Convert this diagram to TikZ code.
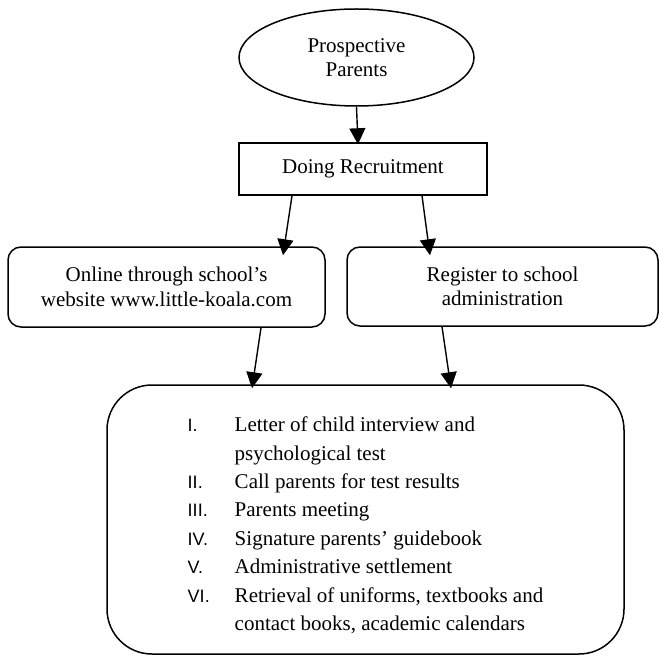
\documentclass[tikz,border=0pt]{standalone}
\usepackage{fontspec}
\setmainfont{Liberation Serif}
\newfontfamily\numfont{Liberation Sans}
\usetikzlibrary{shapes.geometric,arrows.meta}

\tikzset{
    box/.style={draw, line width=1.5pt, align=center, inner sep=0pt, font=\fontsize{21}{24.5}\selectfont},
    flow/.style={line width=1.4pt, -{Triangle[length=16pt,width=16pt]}}
}
\newcommand{\stepnum}[1]{{\numfont\fontsize{18}{18}\selectfont #1}}

\begin{document}
\begin{tikzpicture}[x=1pt, y=-1pt]
    \useasboundingbox (0,0) rectangle (660,655);

    % Prospective parents
    \node[box, ellipse, minimum width=235, minimum height=97] (parents) at (356.5,57.5) {Prospective\\Parents};

    % Recruitment
    \node[box, rectangle, minimum width=248, minimum height=52] (recruit) at (363,169) {Doing Recruitment};

    % Two ways to register
    \node[box, rounded corners=13pt, minimum width=317, minimum height=80] (online) at (166.5,287) {Online through school's\\website www.little-koala.com};
    \node[box, rounded corners=13pt, minimum width=311, minimum height=79] (register) at (502.5,286.5) {Register to school\\administration};

    % Steps after registration
    \node[box, rounded corners=45pt, minimum width=517, minimum height=269] (steps) at (365.5,519.5) {%
        \fontsize{21}{28.4}\selectfont
        \raisebox{-6pt}[\height][\depth]{\begin{tabular}{@{}p{47pt}@{}l@{}}
            \stepnum{I.} & Letter of child interview and\\
             & psychological test\\
            \stepnum{II.} & Call parents for test results\\
            \stepnum{III.} & Parents meeting\\
            \stepnum{IV.} & Signature parents' guidebook\\
            \stepnum{V.} & Administrative settlement\\
            \stepnum{VI.} & Retrieval of uniforms, textbooks and\\
             & contact books, academic calendars
        \end{tabular}}};

    % Arrows
    \draw[flow] (parents.south) -- ([xshift=-5pt,yshift=-2pt]recruit.north);
    \draw[flow] ([xshift=-71pt]recruit.south) -- ([xshift=116.5pt,yshift=-9pt]online.north);
    \draw[flow] ([xshift=59pt]recruit.south) -- ([xshift=-72.5pt,yshift=-9pt]register.north);
    \draw[flow] ([xshift=94.5pt]online.south) -- ([xshift=-113.5pt,yshift=-4pt]steps.north);
    \draw[flow] ([xshift=-60.5pt]register.south) -- ([xshift=85.5pt,yshift=-4pt]steps.north);
\end{tikzpicture}
\end{document}
